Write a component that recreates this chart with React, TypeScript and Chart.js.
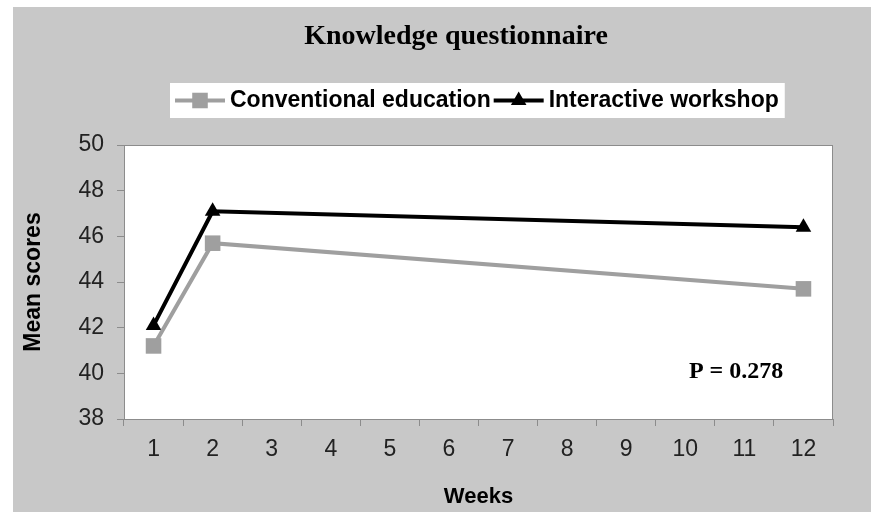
import React, { useEffect, useRef } from "react";
import { Chart, registerables } from "chart.js";

Chart.register(...registerables);

const WEEKS = ["1", "2", "3", "4", "5", "6", "7", "8", "9", "10", "11", "12"];
const CONVENTIONAL = [41.2, 45.7, null, null, null, null, null, null, null, null, null, 43.7];
const INTERACTIVE = [42.1, 47.1, null, null, null, null, null, null, null, null, null, 46.4];
const SERIES_NAMES = ["Conventional education", "Interactive workshop"];
const Y_MIN = 38;
const Y_MAX = 50;
const Y_STEP = 2;
const TITLE = "Knowledge questionnaire";
const Y_TITLE = "Mean scores";
const X_TITLE = "Weeks";
const NOTE_TEXT = "P = 0.278";
const NOTE_X = 9.86; // category index position
const NOTE_Y = 40.08;

const BG = "#c8c8c8";
const AXIS_GRAY = "#8c8c8c";
const GRAY = "#9f9f9f";
const SANS = '"Liberation Sans", Arial, Helvetica, sans-serif';
const SERIF = '"Liberation Serif", "Times New Roman", Times, serif';

function drawMarker(ctx: CanvasRenderingContext2D, style: string, x: number, y: number, r: number, color: string) {
  ctx.save();
  ctx.fillStyle = color;
  ctx.beginPath();
  if (style === "rect") {
    const s = Math.SQRT1_2 * r;
    ctx.rect(x - s, y - s, 2 * s, 2 * s);
  } else {
    let rad = 0;
    ctx.moveTo(x + Math.sin(rad) * r, y - Math.cos(rad) * r);
    rad += (2 * Math.PI) / 3;
    ctx.lineTo(x + Math.sin(rad) * r, y - Math.cos(rad) * r);
    rad += (2 * Math.PI) / 3;
    ctx.lineTo(x + Math.sin(rad) * r, y - Math.cos(rad) * r);
    ctx.closePath();
  }
  ctx.fill();
  ctx.restore();
}

const decorPlugin = {
  id: "decor",
  beforeDraw(chart: any) {
    const { ctx, width, height, chartArea } = chart;
    ctx.save();
    ctx.fillStyle = BG;
    ctx.fillRect(0, 0, width, height);
    ctx.fillStyle = "#ffffff";
    ctx.fillRect(chartArea.left, chartArea.top, chartArea.right - chartArea.left, chartArea.bottom - chartArea.top);
    ctx.restore();
  },
  beforeDatasetsDraw(chart: any) {
    const { ctx, chartArea } = chart;
    ctx.save();
    ctx.strokeStyle = AXIS_GRAY;
    ctx.lineWidth = 1;
    ctx.strokeRect(chartArea.left + 0.5, chartArea.top + 0.5, chartArea.right - chartArea.left - 1, chartArea.bottom - chartArea.top);
    ctx.restore();
  },
  afterDraw(chart: any) {
    const { ctx, chartArea } = chart;
    ctx.save();
    // Title
    ctx.fillStyle = "#000";
    ctx.font = `bold 28px ${SERIF}`;
    ctx.textAlign = "center";
    ctx.textBaseline = "middle";
    ctx.fillText(TITLE, 443, 30);

    // Legend
    ctx.font = `bold 23px ${SANS}`;
    ctx.textAlign = "left";
    const lineLen = 50;
    const gapText = 5;
    const itemGap = 3;
    const padX = 5;
    const boxLeft = chartArea.left + 46;
    const boxTop = 76;
    const boxH = 35;
    const items = chart.data.datasets.map((ds: any) => ({
      ds,
      w: lineLen + gapText + ctx.measureText(ds.label).width,
    }));
    const total = padX * 2 + items.reduce((a: number, it: any) => a + it.w, 0) + itemGap * (items.length - 1) + 1;
    ctx.fillStyle = "#ffffff";
    ctx.fillRect(boxLeft, boxTop, total, boxH);
    let x = boxLeft + padX;
    const yMid = boxTop + boxH / 2;
    items.forEach((it: any) => {
      const ds = it.ds;
      ctx.strokeStyle = ds.borderColor;
      ctx.lineWidth = ds.borderWidth;
      ctx.beginPath();
      ctx.moveTo(x, yMid);
      ctx.lineTo(x + lineLen, yMid);
      ctx.stroke();
      drawMarker(ctx, ds.pointStyle, x + lineLen / 2, yMid, ds.pointRadius, ds.pointBackgroundColor);
      ctx.fillStyle = "#000";
      ctx.fillText(ds.label, x + lineLen + gapText, yMid);
      x += it.w + itemGap;
    });

    // Annotation
    const xs = chart.scales.x;
    const ys = chart.scales.y;
    ctx.font = `bold 24px ${SERIF}`;
    ctx.textAlign = "center";
    ctx.fillStyle = "#000";
    ctx.fillText(NOTE_TEXT, xs.getPixelForValue(NOTE_X), ys.getPixelForValue(NOTE_Y));
    ctx.restore();
  },
};

export default function App() {
  const ref = useRef<HTMLCanvasElement | null>(null);
  useEffect(() => {
    if (!ref.current) return;
    const chart = new Chart(ref.current, {
      type: "line",
      data: {
        labels: WEEKS,
        datasets: [
          {
            label: SERIES_NAMES[0],
            data: CONVENTIONAL,
            borderColor: GRAY,
            backgroundColor: GRAY,
            borderWidth: 4,
            pointStyle: "rect",
            pointRadius: 11,
            pointBorderWidth: 0,
            pointBackgroundColor: GRAY,
            pointBorderColor: GRAY,
            spanGaps: true,
            tension: 0,
          },
          {
            label: SERIES_NAMES[1],
            data: INTERACTIVE,
            borderColor: "#000000",
            backgroundColor: "#000000",
            borderWidth: 4,
            pointStyle: "triangle",
            pointRadius: 9,
            pointBorderWidth: 0,
            pointBackgroundColor: "#000000",
            pointBorderColor: "#000000",
            spanGaps: true,
            tension: 0,
          },
        ] as any,
      },
      options: {
        animation: false,
        responsive: false,
        devicePixelRatio: 1,
        layout: { padding: { top: 138, right: 38, left: 0, bottom: 0 } },
        plugins: {
          legend: { display: false },
          title: { display: false },
          tooltip: { enabled: false },
        },
        scales: {
          x: {
            type: "category",
            offset: true,
            grid: { display: true, offset: true, drawOnChartArea: false, drawTicks: true, tickLength: 7, color: AXIS_GRAY },
            border: { display: true, color: AXIS_GRAY, width: 1 },
            ticks: { font: { family: SANS, size: 23 }, color: "#222", padding: 10, maxRotation: 0, autoSkip: false },
            title: { display: true, text: X_TITLE, color: "#000", font: { family: SANS, size: 22, weight: "bold" }, padding: 2 },
            afterFit(s: any) {
              s.height = 93;
            },
          },
          y: {
            min: Y_MIN,
            max: Y_MAX,
            grid: { display: true, drawOnChartArea: false, drawTicks: true, tickLength: 7, color: AXIS_GRAY },
            border: { display: true, color: AXIS_GRAY, width: 1 },
            ticks: { stepSize: Y_STEP, font: { family: SANS, size: 23 }, color: "#222", padding: 13 },
            title: { display: true, text: Y_TITLE, color: "#000", font: { family: SANS, size: 23, weight: "bold" }, padding: 7 },
            afterFit(s: any) {
              s.width = 111;
            },
          },
        } as any,
      },
      plugins: [decorPlugin],
    });
    return () => chart.destroy();
  }, []);
  return (
    <div style={{ position: "fixed", left: 13, top: 7 }}>
      <canvas ref={ref} width={858} height={505} style={{ display: "block" }} />
    </div>
  );
}
